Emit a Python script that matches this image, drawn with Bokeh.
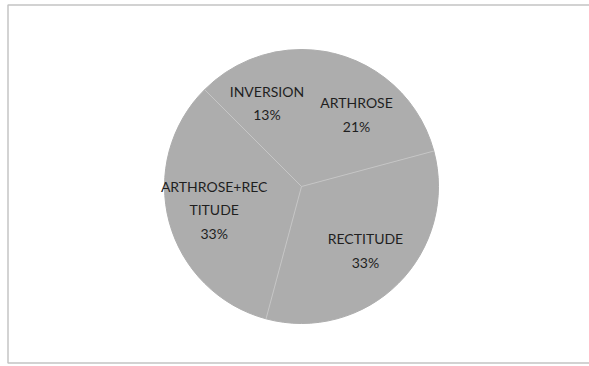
import math
from bokeh.plotting import figure
from bokeh.models import Range1d, ColumnDataSource
from bokeh.core.properties import value
from bokeh.embed import file_html
from bokeh.resources import INLINE

# Data (slices in Excel order: clockwise from 12 o'clock)
categories = ["ARTHROSE", "RECTITUDE", "ARTHROSE+REC\nTITUDE", "INVERSION"]
counts = [5, 8, 8, 3]

total = sum(counts)
pcts = [int(c * 100 / total + 0.5) for c in counts]
labels = [f"{cat}\n{p}%" for cat, p in zip(categories, pcts)]

W, H = 589, 366
CX, CY, R = 301, 180, 137

starts, ends, mids = [], [], []
a = math.pi / 2
for c in counts:
    span = 2 * math.pi * c / total
    starts.append(a)
    ends.append(a - span)
    mids.append(a - span / 2)
    a -= span

lab_r = 0.66 * R
lx = [CX + lab_r * math.cos(m) for m in mids]
ly = [CY + lab_r * math.sin(m) for m in mids]

src = ColumnDataSource(dict(start=starts, end=ends, label=labels, lx=lx, ly=ly))

p = figure(width=W, height=H, output_backend="svg", toolbar_location=None,
           x_range=Range1d(0, W), y_range=Range1d(0, H), min_border=0)
p.axis.visible = False
p.grid.visible = False
p.background_fill_color = "white"
p.border_fill_color = "white"
p.outline_line_color = None

# chart-area border (left, top, bottom; right side runs off the image)
p.line(x=[W + 10, 7.5, 7.5, W + 10], y=[H - 4.5, H - 4.5, H - 362.5, H - 362.5],
       line_color="#c4c4c4", line_width=1.5)

p.wedge(x=CX, y=CY, radius=R, start_angle="end", end_angle="start",
        fill_color="#adadad", line_color="#adadad", line_width=1, source=src)

# separators at slice boundaries (excluding the 12 o'clock start)
p.ray(x=[CX] * (len(ends) - 1), y=[CY] * (len(ends) - 1), length=R,
      angle=ends[:-1], length_units="data", line_color="#c6c6c6", line_width=1)

p.text(x="lx", y="ly", text="label", source=src, text_align="center",
       text_baseline="middle", text_font=value("Lato"), text_font_size="14px",
       text_color="#1f1f1f", text_line_height=1.4)

open("out.html", "w").write(file_html(p, INLINE))
